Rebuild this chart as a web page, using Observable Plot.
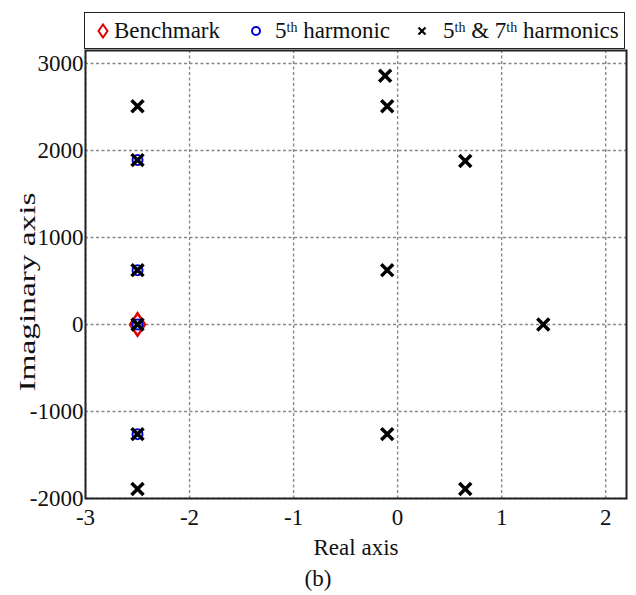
<!DOCTYPE html>
<html>
<head>
<meta charset="utf-8">
<script src="https://cdn.jsdelivr.net/npm/d3@7"></script>
<script src="https://cdn.jsdelivr.net/npm/@observablehq/plot@0.6"></script>
<style>
  html, body { margin: 0; padding: 0; background: #fff; }
  #wrap { position: relative; width: 636px; height: 595px; font-family: "Liberation Serif", "Times New Roman", serif; color: #111; }
  #legend { position: absolute; left: 84px; top: 12px; width: 539px; height: 35px; border: 1.6px solid #222; background: #fff; font-size: 23px; }
  #legend .item { position: absolute; top: 0; height: 35px; display: flex; align-items: center; white-space: nowrap; }
  #legend sup { font-size: 14px; position: relative; top: -3px; vertical-align: super; line-height: 0; }
  #legend svg { display: block; }
  #ylabel { position: absolute; left: 28px; top: 292px; transform: translate(-50%, -50%) rotate(-90deg) scaleX(1.45); white-space: nowrap; font-size: 23px; }
  #caption { position: absolute; left: 0; width: 636px; top: 566px; text-align: center; font-size: 23px; }
  #chart { position: absolute; left: 0; top: 0; }
</style>
</head>
<body>
<div id="wrap">
  <div id="chart"></div>
  <div id="legend">
    <div class="item" style="left:10px"><svg width="16" height="20" viewBox="-8 -10 16 20"><path d="M0,-6.5L4.5,0L0,6.5L-4.5,0Z" fill="none" stroke="#e00000" stroke-width="2"/></svg></div>
    <div class="item" style="left:29px">Benchmark</div>
    <div class="item" style="left:163px"><svg width="16" height="20" viewBox="-8 -10 16 20"><circle r="4" fill="none" stroke="#0000e0" stroke-width="2"/></svg></div>
    <div class="item" style="left:190px">5<sup>th</sup>&nbsp;harmonic</div>
    <div class="item" style="left:329px"><svg width="16" height="20" viewBox="-8 -10 16 20"><path d="M-3.5,-3.5L3.5,3.5M3.5,-3.5L-3.5,3.5" stroke="#000" stroke-width="2.2"/></svg></div>
    <div class="item" style="left:358px">5<sup>th</sup>&nbsp;&amp; 7<sup>th</sup>&nbsp;harmonics</div>
  </div>
  <div id="ylabel">Imaginary axis</div>
  <div id="caption">(b)</div>
</div>
<script>
// Closed-loop pole locations: real part and imaginary part of each pole
const benchmarkRe = [-2.5];
const benchmarkIm = [0];

const fifthRe = [-2.5, -2.5, -2.5, -2.5];
const fifthIm = [1890, 625, 0, -1260];

const fifthSeventhRe = [-2.5, -2.5, -2.5, -2.5, -2.5, -2.5, -0.12, -0.1, 0.65, -0.1, 1.4, -0.1, 0.65];
const fifthSeventhIm = [2510, 1890, 625, 0, -1260, -1890, 2860, 2510, 1880, 625, 0, -1260, -1890];

const xTicks = [-3, -2, -1, 0, 1, 2];
const yTicks = [-2000, -1000, 0, 1000, 2000, 3000];

const toRows = (re, im) => re.map((r, i) => ({re: r, im: im[i]}));
const benchmark = toRows(benchmarkRe, benchmarkIm);
const fifth = toRows(fifthRe, fifthIm);
const fifthSeventh = toRows(fifthSeventhRe, fifthSeventhIm);

// Tall diamond outline for the benchmark pole
const tallDiamond = {
  draw(context, size) {
    const r = Math.sqrt(size / Math.PI);
    context.moveTo(0, -1.5 * r);
    context.lineTo(r, 0);
    context.lineTo(0, 1.5 * r);
    context.lineTo(-r, 0);
    context.closePath();
  }
};

const plain = (d) => String(d);

const chart = Plot.plot({
  width: 636,
  height: 560,
  marginLeft: 85,
  marginRight: 10,
  marginTop: 50,
  marginBottom: 62,
  style: {fontFamily: "Liberation Serif, Times New Roman, serif", fontSize: "23px", color: "#111", background: "transparent"},
  x: {domain: [-3, 2.2]},
  y: {domain: [-2000, 3150]},
  marks: [
    Plot.gridX(xTicks, {stroke: "#888", strokeOpacity: 1, strokeWidth: 1.4, strokeDasharray: "3,2.5"}),
    Plot.gridY(yTicks, {stroke: "#888", strokeOpacity: 1, strokeWidth: 1.4, strokeDasharray: "3,2.5"}),
    Plot.axisX(xTicks, {tickSize: 0, tickPadding: 10, tickFormat: plain, label: "Real axis", labelAnchor: "center", labelArrow: "none", labelOffset: 56, fontSize: 23}),
    Plot.axisY(yTicks, {tickSize: 0, tickPadding: 2, tickFormat: plain, label: null, fontSize: 23}),
    Plot.dot(benchmark, {x: "re", y: "im", symbol: tallDiamond, r: 7.5, stroke: "#e00000", strokeWidth: 2.5, fill: "none"}),
    Plot.dot(fifth, {x: "re", y: "im", symbol: "circle", r: 5, stroke: "#0000e0", strokeWidth: 2, fill: "none"}),
    Plot.dot(fifthSeventh, {x: "re", y: "im", symbol: "times", r: 5.5, stroke: "#000", strokeWidth: 3.5}),
    Plot.frame({stroke: "#222", strokeWidth: 2})
  ]
});
document.getElementById("chart").appendChild(chart);
</script>
</body>
</html>
